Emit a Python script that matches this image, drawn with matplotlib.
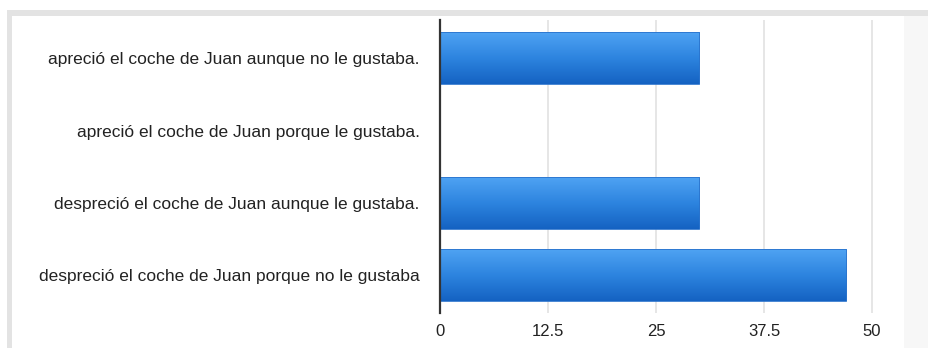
import matplotlib
matplotlib.use("Agg")
import matplotlib.pyplot as plt
import numpy as np
from matplotlib.colors import LinearSegmentedColormap
from matplotlib.patches import Rectangle

categories = [
    "apreció el coche de Juan aunque no le gustaba.",
    "apreció el coche de Juan porque le gustaba.",
    "despreció el coche de Juan aunque le gustaba.",
    "despreció el coche de Juan porque no le gustaba",
]
values = [30, 0, 30, 47]
xticks = [0, 12.5, 25, 37.5, 50]
xtick_labels = ["0", "12.5", "25", "37.5", "50"]

plt.rcParams['font.family'] = ['Liberation Sans', 'DejaVu Sans']

W, H = 929, 348
fig = plt.figure(figsize=(W / 100, H / 100), dpi=100)
fig.patch.set_facecolor("white")

# frame decorations
fig.patches.append(Rectangle((7 / W, 0), (904 - 7) / W, 1 - 10 / H, transform=fig.transFigure,
                             facecolor="#e3e3e3", edgecolor="none", zorder=-5))
fig.patches.append(Rectangle((12 / W, 0), (904 - 12) / W, 1 - 16 / H, transform=fig.transFigure,
                             facecolor="white", edgecolor="none", zorder=-4))
fig.patches.append(Rectangle((904 / W, 0), (W - 904) / W, 1 - 10 / H, transform=fig.transFigure,
                             facecolor="#e3e3e3", edgecolor="none", zorder=-5))
fig.patches.append(Rectangle((904 / W, 0), (W - 904) / W, 1 - 16 / H, transform=fig.transFigure,
                             facecolor="#f7f7f7", edgecolor="none", zorder=-4))

left, right = 440 / W, 904 / W
bottom, top = 1 - 313 / H, 1 - 20 / H
ax = fig.add_axes([left, bottom, right - left, top - bottom])
ax.set_zorder(2)
ax.set_facecolor("none")

unit_px = (872 - 440) / 50.0
xmax = (904 - 440) / unit_px
n = len(categories)
ypos = np.arange(n)
ax.set_xlim(0, xmax)
ax.set_ylim(3.525, -0.533)

cmap = LinearSegmentedColormap.from_list("bar", ["#4fa3f3", "#2d84df", "#1462c2"])
grad = np.linspace(0, 1, 256).reshape(-1, 1)
bar_h = 0.72
for y, v in zip(ypos, values):
    if v <= 0:
        continue
    ax.imshow(grad, cmap=cmap, aspect="auto",
              extent=(0, v, y + bar_h / 2, y - bar_h / 2), zorder=2, interpolation="bilinear")
    ax.add_patch(Rectangle((0, y - bar_h / 2), v, bar_h, facecolor="none",
                           edgecolor="#2a73cc", linewidth=0.6, zorder=3))

for t in xticks[1:]:
    ax.axvline(t, color="#e2e2e2", linewidth=1.2, zorder=1)

ax.set_xticks(xticks)
ax.set_xticklabels(xtick_labels, fontsize=12, color="#222222")
ax.set_yticks(ypos)
ax.set_yticklabels(categories, fontsize=12.5, color="#222222")
ax.tick_params(axis="both", length=0)
ax.tick_params(axis="y", pad=14.5)
ax.tick_params(axis="x", pad=8)
for s in ["top", "right", "bottom"]:
    ax.spines[s].set_visible(False)
ax.spines["left"].set_color("#333333")
ax.spines["left"].set_linewidth(1.6)
ax.spines["left"].set_zorder(4)

fig.savefig("out.png", dpi=100)
